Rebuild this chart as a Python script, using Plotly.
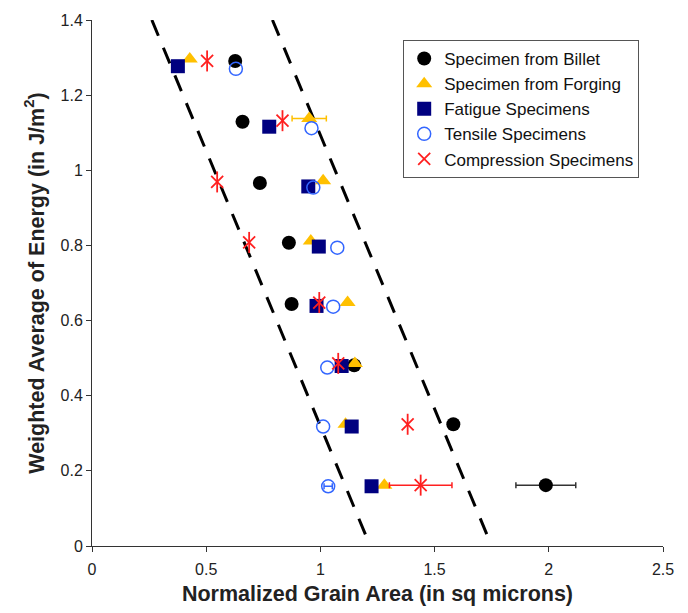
import plotly.graph_objects as go

# Weighted average of energy levels shared by all specimen groups
billet_x = [0.627, 0.659, 0.735, 0.862, 0.874, 1.148, 1.582, 1.987]
billet_y = [1.291, 1.129, 0.966, 0.807, 0.644, 0.481, 0.324, 0.162]
billet_err = [0, 0, 0, 0, 0, 0, 0, 0.131]

forging_x = [0.428, 0.951, 1.012, 0.958, 1.119, 1.151, 1.110, 1.280]
forging_y = [1.296, 1.138, 0.972, 0.812, 0.648, 0.486, 0.324, 0.162]
forging_err = [0, 0.075, 0, 0, 0, 0, 0, 0]

fatigue_x = [0.376, 0.776, 0.947, 0.993, 0.983, 1.093, 1.137, 1.224]
fatigue_y = [1.277, 1.116, 0.957, 0.797, 0.639, 0.479, 0.318, 0.159]

tensile_x = [0.630, 0.961, 0.969, 1.074, 1.056, 1.030, 1.012, 1.034]
tensile_y = [1.270, 1.112, 0.954, 0.794, 0.637, 0.475, 0.318, 0.159]
tensile_err = [0, 0, 0, 0, 0, 0, 0, 0.018]

compression_x = [0.504, 0.834, 0.548, 0.688, 0.995, 1.078, 1.382, 1.439]
compression_y = [1.291, 1.132, 0.969, 0.808, 0.648, 0.486, 0.324, 0.162]
compression_err = [0, 0, 0, 0, 0, 0, 0, 0.137]

# Bounding guide lines (x, y endpoints)
left_bound_x = [0.262, 1.218]
right_bound_x = [0.790, 1.750]
bound_y = [1.40, 0.0]

x_ticks = [0, 0.5, 1, 1.5, 2, 2.5]
y_ticks = [0, 0.2, 0.4, 0.6, 0.8, 1.0, 1.2, 1.4]
x_labels = ["0", "0.5", "1", "1.5", "2", "2.5"]
y_labels = ["0", "0.2", "0.4", "0.6", "0.8", "1", "1.2", "1.4"]

fig = go.Figure()

for bx in (left_bound_x, right_bound_x):
    fig.add_trace(go.Scatter(
        x=bx, y=bound_y, mode="lines", showlegend=False, hoverinfo="skip",
        line=dict(color="black", width=3, dash="17px,13px"),
    ))


def add_error_bars(xs, ys, errs, color):
    """Horizontal error bars only for the points that carry a spread."""
    idx = [i for i, e in enumerate(errs) if e > 0]
    if not idx:
        return
    fig.add_trace(go.Scatter(
        x=[xs[i] for i in idx], y=[ys[i] for i in idx],
        mode="markers", showlegend=False, hoverinfo="skip",
        marker=dict(size=1, color="rgba(0,0,0,0)"),
        error_x=dict(type="data", array=[errs[i] for i in idx], visible=True,
                     color=color, thickness=1.5, width=3),
    ))


add_error_bars(billet_x, billet_y, billet_err, "#333333")
fig.add_trace(go.Scatter(
    x=billet_x, y=billet_y, mode="markers", name="Specimen from Billet",
    marker=dict(symbol="circle", size=14, color="black"),
))
add_error_bars(forging_x, forging_y, forging_err, "#FFC000")
fig.add_trace(go.Scatter(
    x=forging_x, y=forging_y, mode="markers", name="Specimen from Forging",
    marker=dict(symbol="triangle-up", size=14, color="#FFC000"),
))
fig.add_trace(go.Scatter(
    x=fatigue_x, y=fatigue_y, mode="markers", name="Fatigue Specimens",
    marker=dict(symbol="square", size=14, color="#000080"),
))
add_error_bars(tensile_x, tensile_y, tensile_err, "#3366FF")
fig.add_trace(go.Scatter(
    x=tensile_x, y=tensile_y, mode="markers", name="Tensile Specimens",
    marker=dict(symbol="circle-open", size=13, color="#3366FF",
                line=dict(width=1.5, color="#3366FF")),
))
add_error_bars(compression_x, compression_y, compression_err, "#FF2020")
fig.add_trace(go.Scatter(
    x=compression_x, y=compression_y, mode="markers", name="Compression Specimens",
    marker=dict(symbol="x-thin-open", size=12, color="#FF2020",
                line=dict(width=1.8, color="#FF2020")),
))
# vertical stroke completing the six-armed asterisk
fig.add_trace(go.Scatter(
    x=compression_x, y=compression_y, mode="markers", showlegend=False,
    hoverinfo="skip",
    marker=dict(symbol="line-ns-open", size=15, color="#FF2020",
                line=dict(width=1.8, color="#FF2020")),
))

axis_font = dict(family="Arial, Liberation Sans, sans-serif", size=16, color="#222222")
title_font = dict(family="Arial, Liberation Sans, sans-serif", size=21.5, color="#222222")

fig.update_layout(
    width=688, height=613,
    margin=dict(l=92, r=25, t=15, b=65),
    paper_bgcolor="white", plot_bgcolor="white",
    font=axis_font,
    showlegend=True,
    legend=dict(
        x=0.545, y=0.962, xanchor="left", yanchor="top",
        bgcolor="white", bordercolor="#555555", borderwidth=1,
        font=dict(family="Arial, Liberation Sans, sans-serif", size=17, color="#111111"),
        itemwidth=30, tracegroupgap=0,
    ),
    xaxis=dict(
        range=[0, 2.5], tickvals=x_ticks, ticktext=x_labels,
        showgrid=False, zeroline=False, showline=True, linecolor="#333333",
        linewidth=1, ticks="outside", ticklen=5, tickcolor="#333333",
        ticklabelstandoff=4,
        title=dict(text="<b>Normalized Grain Area (in sq microns)</b>",
                   font=title_font, standoff=8),
    ),
    yaxis=dict(
        range=[0, 1.4], tickvals=y_ticks, ticktext=y_labels,
        showgrid=False, zeroline=False, showline=True, linecolor="#333333",
        linewidth=1, ticks="outside", ticklen=5, tickcolor="#333333",
        title=dict(text="<b>Weighted Average of Energy (in J/m<sup>2</sup>)</b>",
                   font=title_font, standoff=10),
    ),
)

fig.write_html("out.html")
